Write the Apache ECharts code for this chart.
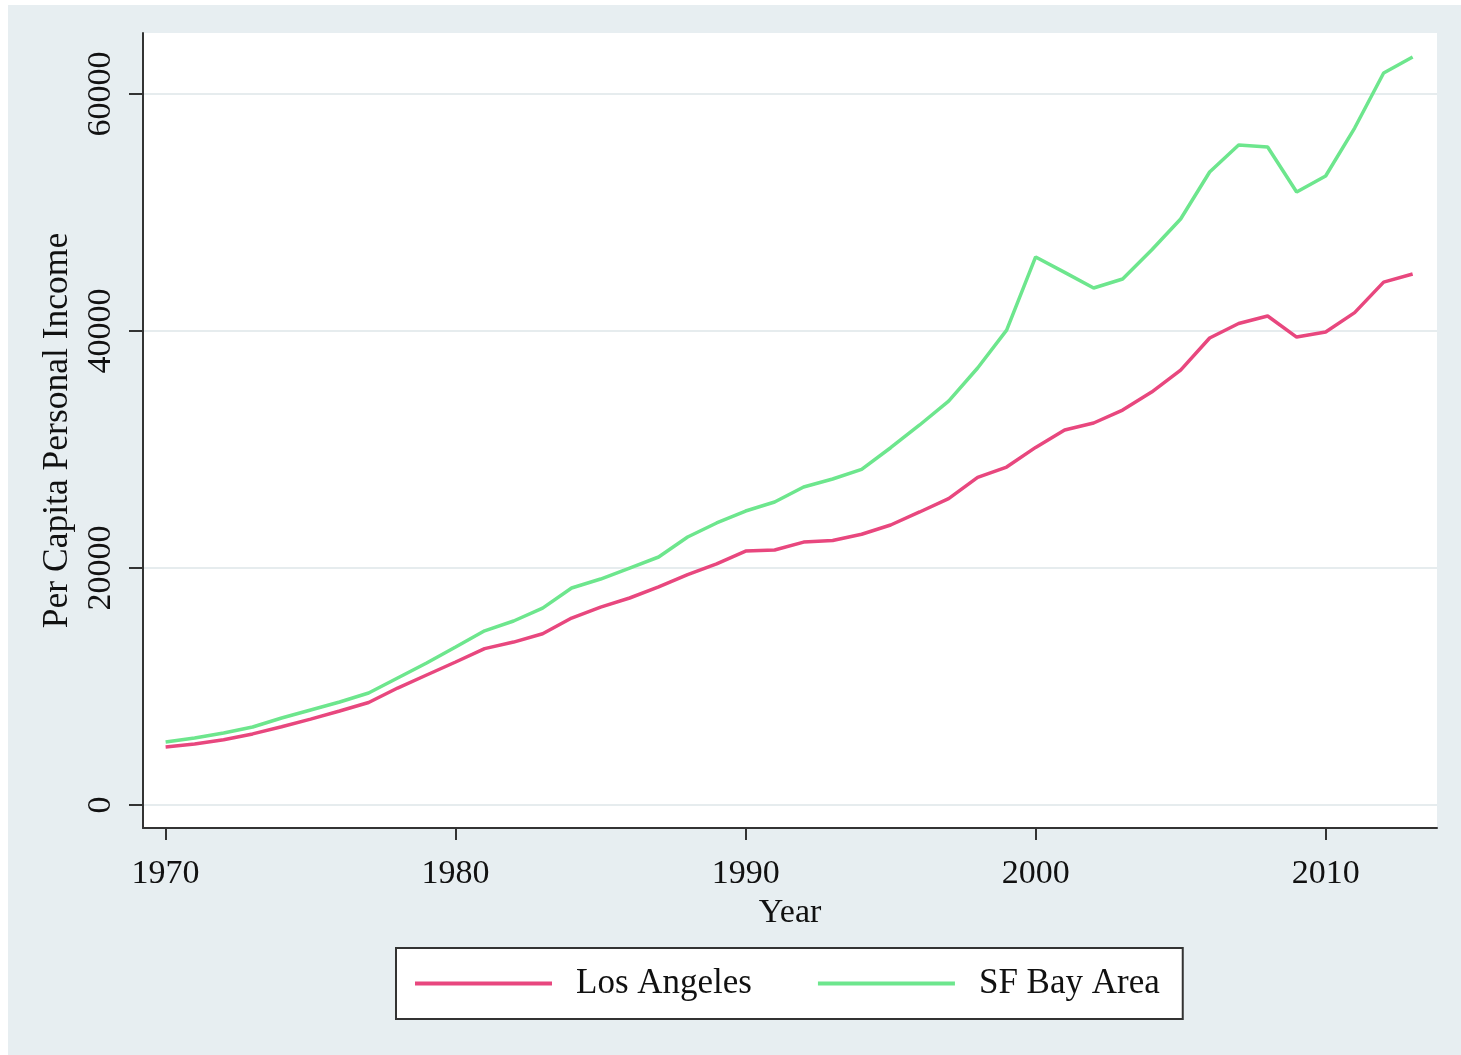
<!DOCTYPE html>
<html>
<head>
<meta charset="utf-8">
<script src="https://cdn.jsdelivr.net/npm/echarts@6/dist/echarts.min.js"></script>
<style>
html,body{margin:0;padding:0;background:#ffffff;}
#chart{position:absolute;left:8px;top:5px;width:1453px;height:1050px;}
</style>
</head>
<body>
<div id="chart"></div>
<script>
const years = [1970,1971,1972,1973,1974,1975,1976,1977,1978,1979,1980,1981,1982,1983,1984,1985,1986,1987,1988,1989,1990,1991,1992,1993,1994,1995,1996,1997,1998,1999,2000,2001,2002,2003,2004,2005,2006,2007,2008,2009,2010,2011,2012,2013];
const losAngeles = [4900,5150,5500,6000,6600,7250,7930,8650,9870,10970,12070,13200,13750,14450,15780,16700,17470,18400,19450,20350,21430,21520,22190,22320,22850,23630,24730,25850,27650,28520,30180,31650,32240,33330,34850,36700,39410,40630,41270,39490,39920,41550,44130,44810];
const sfBayArea = [5320,5650,6080,6580,7340,8020,8690,9450,10720,11980,13330,14700,15530,16620,18310,19070,20000,20930,22620,23800,24810,25570,26840,27510,28330,30150,32070,34090,36880,40080,46250,44950,43630,44390,46840,49450,53420,55700,55530,51730,53080,57130,61770,63120];
const xTicks = [1970,1980,1990,2000,2010];
const yTicks = [0,20000,40000,60000];
const seriesNames = ['Los Angeles','SF Bay Area'];

const FONT = '"Liberation Serif","DejaVu Serif",serif';
const chart = echarts.init(document.getElementById('chart'));
chart.setOption({
  backgroundColor: '#e7eef1',
  animation: false,
  grid: {left:135, top:28, right:24, bottom:227, show:true, backgroundColor:'#ffffff', borderWidth:0},
  xAxis: {
    type:'value', min:1969.22, max:2013.84,
    name:'Year', nameLocation:'middle', nameGap:68,
    nameTextStyle:{fontFamily:FONT, fontSize:34, color:'#111'},
    axisLine:{show:true, onZero:false, lineStyle:{color:'#333', width:2}},
    axisTick:{show:true, length:12, lineStyle:{color:'#333', width:2}, customValues:xTicks},
    axisLabel:{fontFamily:FONT, fontSize:34, color:'#111', margin:29, customValues:xTicks, formatter:v=>String(v)},
    splitLine:{show:false}
  },
  yAxis: {
    type:'value', min:-1940, max:65150,
    name:'Per Capita Personal Income', nameLocation:'middle', nameGap:57, nameRotate:90,
    nameTextStyle:{fontFamily:FONT, fontSize:35.5, color:'#111'},
    axisLine:{show:true, onZero:false, lineStyle:{color:'#333', width:2}},
    axisTick:{show:true, length:14, lineStyle:{color:'#333', width:2}, customValues:yTicks},
    axisLabel:{fontFamily:FONT, fontSize:34, color:'#111', margin:25, rotate:90, customValues:yTicks, formatter:v=>String(v)},
    splitLine:{show:true, lineStyle:{color:'#e6ecee', width:2}}
  },
  legend: {
    left:388, top:943, orient:'horizontal',
    data: seriesNames,
    backgroundColor:'#ffffff', borderColor:'#333', borderWidth:2,
    padding:[18,23,18,19], itemGap:66, itemWidth:137, itemHeight:4, icon:'rect',
    textStyle:{fontFamily:FONT, fontSize:35, color:'#111', padding:[6,0,0,19]}
  },
  series: [
    {name:seriesNames[0], type:'line', showSymbol:false, color:'#e8477e',
     lineStyle:{width:3.5}, data: years.map((y,i)=>[y, losAngeles[i]])},
    {name:seriesNames[1], type:'line', showSymbol:false, color:'#6de68d',
     lineStyle:{width:3.5}, data: years.map((y,i)=>[y, sfBayArea[i]])}
  ]
});
</script>
</body>
</html>
